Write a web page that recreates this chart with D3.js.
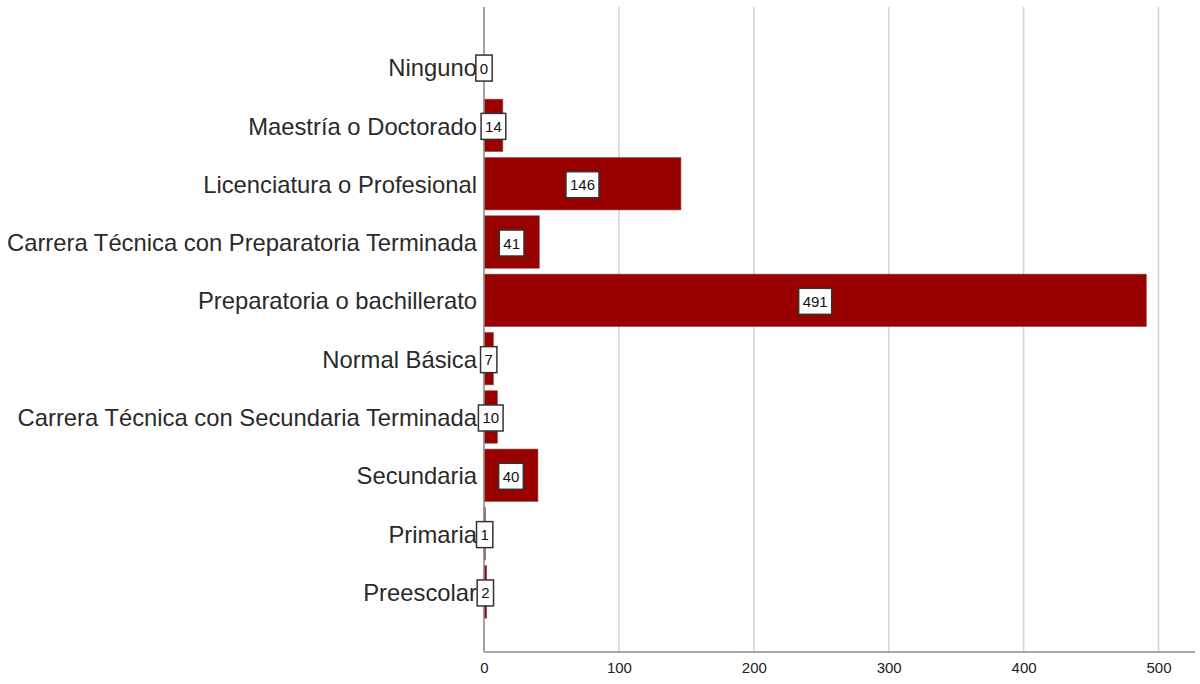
<!DOCTYPE html>
<html><head><meta charset="utf-8">
<script src="https://cdn.jsdelivr.net/npm/d3@7"></script>
<style>body{margin:0;background:#fff}svg{display:block}</style>
</head><body>
<svg id="c" width="1200" height="684"></svg>
<script>
const categories = ["Ninguno","Maestría o Doctorado","Licenciatura o Profesional","Carrera Técnica con Preparatoria Terminada","Preparatoria o bachillerato","Normal Básica","Carrera Técnica con Secundaria Terminada","Secundaria","Primaria","Preescolar"];
const counts = [0,14,146,41,491,7,10,40,1,2];
const xTicks = [0,100,200,300,400,500];

const svg = d3.select("#c");
const x0 = 484, xEnd = 1195, yTop = 7, yBot = 652;
const x = d3.scaleLinear().domain([0,500]).range([x0,1158.5]);
const y = d3.scaleBand().domain(categories).range([yTop,yBot]).paddingInner(0.1).paddingOuter(0.58);
const data = categories.map((c,i)=>({c, v:counts[i]}));

// gridlines
svg.append("g").selectAll("line").data(xTicks.filter(t=>t>0)).join("line")
  .attr("x1",d=>x(d)).attr("x2",d=>x(d)).attr("y1",yTop).attr("y2",yBot)
  .attr("stroke","#d4d4d4").attr("stroke-width",1.6);

// bars
svg.append("g").selectAll("rect").data(data).join("rect")
  .attr("x",x(0)).attr("y",d=>y(d.c)).attr("width",d=>x(d.v)-x(0)).attr("height",y.bandwidth())
  .attr("fill","#990000").attr("stroke","#8a5a5a").attr("stroke-width",0.6);

// axes
const xAxis = d3.axisBottom(x).tickValues(xTicks).tickSize(0).tickPadding(10);
const gx = svg.append("g").attr("transform",`translate(0,${yBot})`).call(xAxis);
gx.select(".domain").remove();
gx.selectAll("text").attr("font-family","Liberation Sans, Arial, sans-serif").attr("font-size",15).attr("fill","#222");
svg.append("line").attr("x1",x0).attr("x2",xEnd).attr("y1",yBot).attr("y2",yBot).attr("stroke","#8c8c8c").attr("stroke-width",1.6);

const yAxis = d3.axisLeft(y).tickSize(0).tickPadding(7);
const gy = svg.append("g").attr("transform",`translate(${x0},1.5)`).call(yAxis);
gy.select(".domain").remove();
gy.selectAll("text").attr("font-family","Liberation Sans, Arial, sans-serif").attr("font-size",23.8).attr("fill","#2a2a2a");
svg.append("line").attr("x1",x0).attr("x2",x0).attr("y1",yTop).attr("y2",yBot).attr("stroke","#8c8c8c").attr("stroke-width",1.6);

// data labels
const lg = svg.append("g");
data.forEach(d=>{
  const cx = x(d.v/2), cy = y(d.c)+y.bandwidth()/2+1;
  const t = lg.append("text").attr("x",cx).attr("y",cy).attr("text-anchor","middle").attr("dominant-baseline","central")
    .attr("font-family","Liberation Sans, Arial, sans-serif").attr("font-size",15).attr("fill","#111").text(d.v);
  const bb = t.node().getBBox();
  const w = bb.width+8, h = 26;
  lg.insert("rect","text").attr("x",cx-w/2).attr("y",cy-h/2).attr("width",w).attr("height",h)
    .attr("fill","#fff").attr("stroke","#333").attr("stroke-width",1.5);
});
</script>
</body></html>
